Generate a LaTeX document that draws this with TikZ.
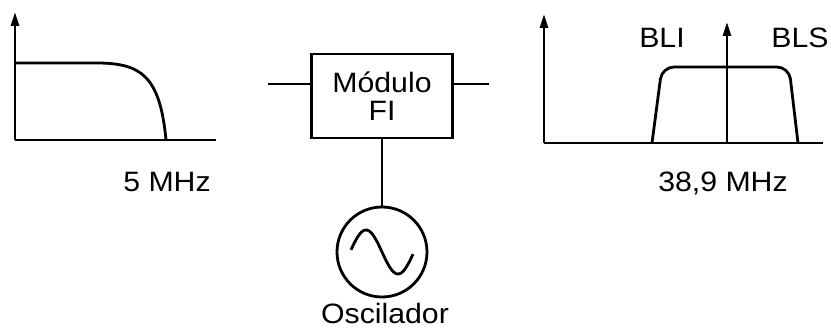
\documentclass[tikz,border=0pt]{standalone}
\usepackage{fontspec}
\setmainfont{Liberation Sans}[FakeStretch=1.08]
\usetikzlibrary{positioning, arrows.meta, calc}

\begin{document}
\begin{tikzpicture}[
  x=1pt, y=-1pt,
  font=\fontsize{28}{30}\selectfont,
  line width=2.8pt,
  >={Triangle[length=14pt, width=8pt]},
  axis/.style={->, line join=miter},
  curve/.style={line join=round},
  lbl/.style={anchor=base, inner sep=0pt},
  block/.style={draw, minimum width=141pt, minimum height=84pt, align=center, inner sep=0pt},
  source/.style={draw, circle, minimum size=90pt, inner sep=0pt},
  wire/.style={},
]
\useasboundingbox (0,0) rectangle (831,331);

% ================= input spectrum =================
\coordinate (o1) at (15,140);
\draw[axis] (o1) -- (15,12);
\draw (o1) -- (216,140);
\draw[curve] (15,63) -- (100,63) .. controls (140,64) and (160,75) .. (166,140);
\node[lbl] (f1) at (167,192) {5 MHz};

% ================= IF module and oscillator =================
\node[block] (fi) at (382,96) {\raisebox{-2pt}{Módulo}\\FI};
\coordinate (in) at (268,84);
\coordinate (out) at (489,84);
\draw[wire] (in) -- (in -| fi.west);
\draw[wire] (out -| fi.east) -- (out);

\node[source] (osc) at (382,252) {};
\draw[wire] (fi) -- (osc);
\draw[curve, shift={(osc.center)}]
  plot[domain=-31:31, samples=60, smooth] (\x, {22*sin(\x*5.625)});
\node[lbl] (oscl) at (385,324) {Oscilador};

% ================= output spectrum =================
\coordinate (o2) at (544,143);
\draw[axis] (o2) -- (544,14);
\draw (o2) -- (823,143);
\draw[axis] (727,143) -- (727,22);
\draw[curve, rounded corners=12pt] (652,143) -- (662,67) -- (789,67) -- (798,143);
\node[lbl] (bli) at (662,48) {BLI};
\node[lbl] (bls) at (800,48) {BLS};
\node[lbl] (f2) at (723,192) {38,9 MHz};

\end{tikzpicture}
\end{document}
